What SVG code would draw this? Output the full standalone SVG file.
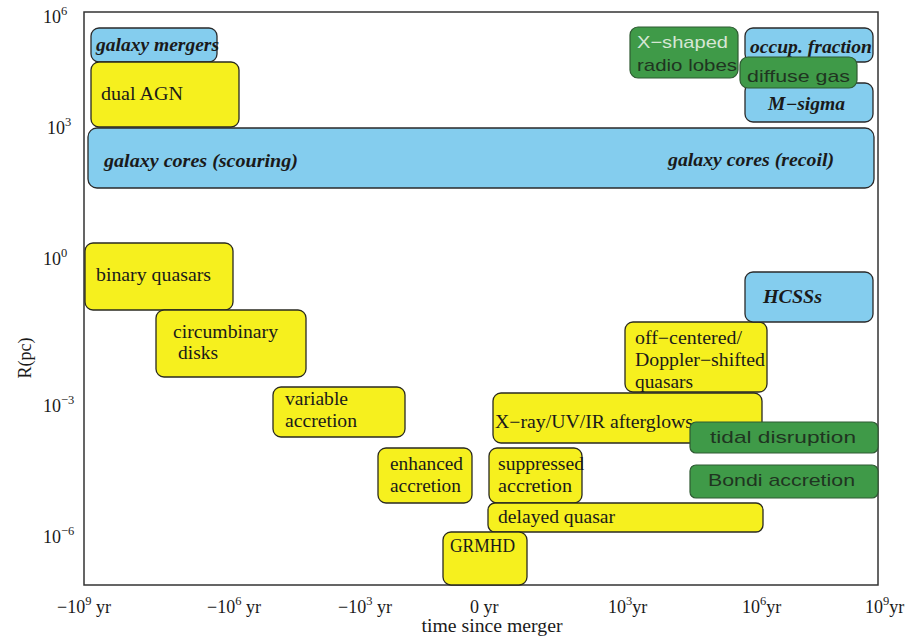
<svg xmlns="http://www.w3.org/2000/svg" width="909" height="641" viewBox="0 0 909 641">
<style>
.boxy{fill:#f6f01e;stroke:#2a2a20;stroke-width:1.3}
.boxb{fill:#84cdee;stroke:#2a2a2a;stroke-width:1.3}
.boxg{fill:#3f9a48;stroke:#2f5a33;stroke-width:1.2}
.lblserif{font-family:"Liberation Serif","Times New Roman",serif;font-size:18px;fill:#1a1a1a}
.lblbi{font-family:"Liberation Serif","Times New Roman",serif;font-size:18px;font-weight:bold;font-style:italic;fill:#1a1a1a}
.lblsans{font-family:"Liberation Sans",Arial,sans-serif;font-size:17px;fill:#1f3521}
.axlbl{font-family:"Liberation Serif","Times New Roman",serif;font-size:18px;fill:#1a1a1a}
.supr{font-size:12.5px}
.frame{fill:none;stroke:#333;stroke-width:1.5}
</style>
<rect width="909" height="641" fill="#ffffff"/>
<g id="axes">
<rect class="frame" x="84" y="12" width="794" height="573"/>
<text class="axlbl" x="43" y="23">10<tspan class="supr" dy="-8">6</tspan></text>
<text class="axlbl" x="47" y="134">10<tspan class="supr" dy="-8">3</tspan></text>
<text class="axlbl" x="43" y="265">10<tspan class="supr" dy="-8">0</tspan></text>
<text class="axlbl" x="43" y="412">10<tspan class="supr" dy="-8">−3</tspan></text>
<text class="axlbl" x="43" y="543">10<tspan class="supr" dy="-8">−6</tspan></text>
<text class="axlbl" transform="translate(31,358) rotate(-90)" text-anchor="middle">R(pc)</text>
<text class="axlbl" x="57" y="613">−10<tspan class="supr" dy="-8">9</tspan><tspan dy="8"> yr</tspan></text>
<text class="axlbl" x="207" y="613">−10<tspan class="supr" dy="-8">6</tspan><tspan dy="8"> yr</tspan></text>
<text class="axlbl" x="338" y="613">−10<tspan class="supr" dy="-8">3</tspan><tspan dy="8"> yr</tspan></text>
<text class="axlbl" x="470" y="613">0  yr</text>
<text class="axlbl" x="608" y="613">10<tspan class="supr" dy="-8">3</tspan><tspan dy="8">yr</tspan></text>
<text class="axlbl" x="742" y="613">10<tspan class="supr" dy="-8">6</tspan><tspan dy="8">yr</tspan></text>
<text class="axlbl" x="865" y="613">10<tspan class="supr" dy="-8">9</tspan><tspan dy="8">yr</tspan></text>
<text class="axlbl" x="492" y="632" text-anchor="middle" textLength="141" lengthAdjust="spacingAndGlyphs">time since merger</text>
</g>
<g id="connectors"/>
<g id="nodes">
<g id="galaxy-mergers"><rect class="boxb" x="91" y="28" width="126" height="34" rx="8"/><text class="lblbi" x="96" y="51" textLength="123" lengthAdjust="spacingAndGlyphs">galaxy mergers</text></g>
<g id="dual-agn"><rect class="boxy" x="91" y="62" width="148" height="65" rx="8"/><text class="lblserif" x="101" y="100" textLength="82" lengthAdjust="spacingAndGlyphs">dual AGN</text></g>
<g id="galaxy-cores"><rect class="boxb" x="88" y="128" width="786" height="60" rx="9"/><text class="lblbi" x="104" y="167" textLength="194" lengthAdjust="spacingAndGlyphs">galaxy cores (scouring)</text><text class="lblbi" x="668" y="166" textLength="166" lengthAdjust="spacingAndGlyphs">galaxy cores (recoil)</text></g>
<g id="occup-fraction"><rect class="boxb" x="745" y="28" width="128" height="34" rx="8"/><text class="lblbi" x="750" y="53" textLength="122" lengthAdjust="spacingAndGlyphs">occup. fraction</text></g>
<g id="m-sigma"><rect class="boxb" x="745" y="83" width="128" height="39" rx="8"/><text class="lblbi" x="768" y="110" textLength="77" lengthAdjust="spacingAndGlyphs">M−sigma</text></g>
<g id="x-shaped"><rect class="boxg" x="630" y="27" width="108" height="51" rx="8"/><text class="lblsans" x="637" y="48" textLength="91" lengthAdjust="spacingAndGlyphs" style="fill:#d6e6d4">X−shaped</text><text class="lblsans" x="637" y="71" textLength="100" lengthAdjust="spacingAndGlyphs">radio lobes</text></g>
<g id="diffuse-gas"><rect class="boxg" x="740" y="57" width="117" height="31" rx="8"/><text class="lblsans" x="747" y="82" textLength="103" lengthAdjust="spacingAndGlyphs">diffuse gas</text></g>
<g id="binary-quasars"><rect class="boxy" x="85" y="243" width="148" height="67" rx="8"/><text class="lblserif" x="96" y="281" textLength="115" lengthAdjust="spacingAndGlyphs">binary quasars</text></g>
<g id="circumbinary-disks"><rect class="boxy" x="156" y="310" width="150" height="67" rx="8"/><text class="lblserif" x="173" y="338" textLength="105" lengthAdjust="spacingAndGlyphs">circumbinary</text><text class="lblserif" x="178" y="359" textLength="40" lengthAdjust="spacingAndGlyphs">disks</text></g>
<g id="variable-accretion"><rect class="boxy" x="273" y="387" width="132" height="50" rx="8"/><text class="lblserif" x="285" y="405" textLength="63" lengthAdjust="spacingAndGlyphs">variable</text><text class="lblserif" x="285" y="427" textLength="72" lengthAdjust="spacingAndGlyphs">accretion</text></g>
<g id="enhanced-accretion"><rect class="boxy" x="378" y="448" width="94" height="55" rx="8"/><text class="lblserif" x="390" y="470" textLength="73" lengthAdjust="spacingAndGlyphs">enhanced</text><text class="lblserif" x="390" y="492" textLength="71" lengthAdjust="spacingAndGlyphs">accretion</text></g>
<g id="off-centered"><rect class="boxy" x="625" y="322" width="142" height="70" rx="8"/><text class="lblserif" x="635" y="344" textLength="107" lengthAdjust="spacingAndGlyphs">off−centered/</text><text class="lblserif" x="635" y="366" textLength="130" lengthAdjust="spacingAndGlyphs">Doppler−shifted</text><text class="lblserif" x="635" y="388" textLength="58" lengthAdjust="spacingAndGlyphs">quasars</text></g>
<g id="hcsss"><rect class="boxb" x="745" y="272" width="128" height="50" rx="8"/><text class="lblbi" x="763" y="303" textLength="59" lengthAdjust="spacingAndGlyphs">HCSSs</text></g>
<g id="afterglows"><rect class="boxy" x="493" y="393" width="269" height="50" rx="8"/><text class="lblserif" x="495" y="428" textLength="198" lengthAdjust="spacingAndGlyphs">X−ray/UV/IR afterglows</text></g>
<g id="tidal-disruption"><rect class="boxg" x="690" y="422" width="188" height="31" rx="6"/><text class="lblsans" x="710" y="443" textLength="146" lengthAdjust="spacingAndGlyphs">tidal disruption</text></g>
<g id="bondi-accretion"><rect class="boxg" x="690" y="465" width="188" height="33" rx="6"/><text class="lblsans" x="708" y="486" textLength="147" lengthAdjust="spacingAndGlyphs">Bondi accretion</text></g>
<g id="suppressed-accretion"><rect class="boxy" x="489" y="448" width="93" height="55" rx="8"/><text class="lblserif" x="498" y="470" textLength="86" lengthAdjust="spacingAndGlyphs">suppressed</text><text class="lblserif" x="498" y="492" textLength="74" lengthAdjust="spacingAndGlyphs">accretion</text></g>
<g id="delayed-quasar"><rect class="boxy" x="488" y="503" width="275" height="29" rx="7"/><text class="lblserif" x="498" y="523" textLength="117" lengthAdjust="spacingAndGlyphs">delayed quasar</text></g>
<g id="grmhd"><rect class="boxy" x="443" y="532" width="84" height="53" rx="8"/><text class="lblserif" x="450" y="552" textLength="65" lengthAdjust="spacingAndGlyphs">GRMHD</text></g>
</g>
</svg>
